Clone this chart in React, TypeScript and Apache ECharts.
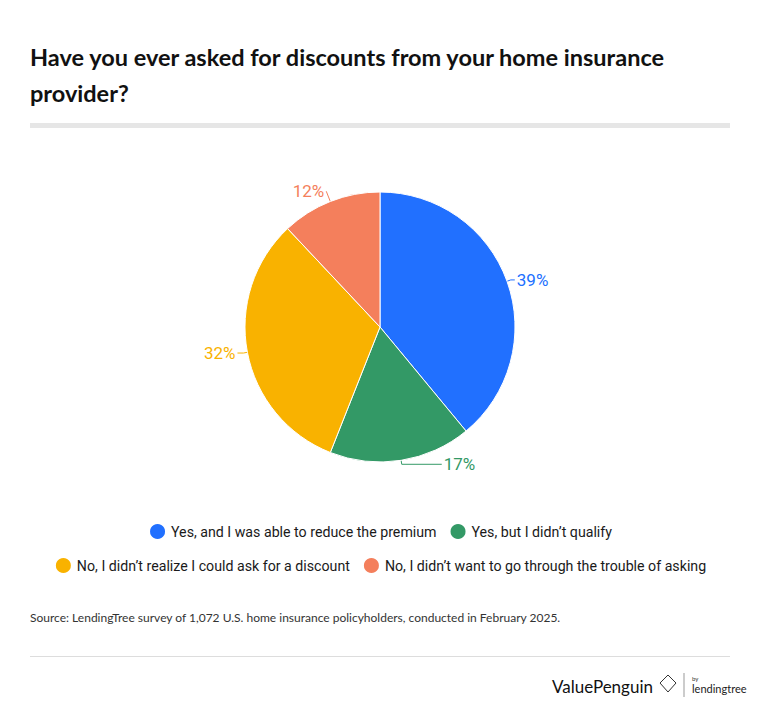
import React, { useEffect, useRef } from "react";
import * as echarts from "echarts";

const categories = [
  "Yes, and I was able to reduce the premium",
  "Yes, but I didn’t qualify",
  "No, I didn’t realize I could ask for a discount",
  "No, I didn’t want to go through the trouble of asking",
];
const values = [39, 17, 32, 12];
const colors = ["#2170FF", "#339966", "#F9B200", "#F47F5C"];
const lineLengths = [
  [4, 4],
  [4, 40],
  [4, 6],
  [11, 0],
];

export default function App() {
  const ref = useRef<HTMLDivElement>(null);
  useEffect(() => {
    document.body.style.margin = "0";
    const chart = echarts.init(ref.current!, undefined, { renderer: "svg" });
    const data = categories.map((name, i) => ({
      name,
      value: values[i],
      itemStyle: { color: colors[i] },
      label: { color: colors[i] },
      labelLine: {
        length: lineLengths[i][0],
        length2: lineLengths[i][1],
        lineStyle: { color: colors[i] },
      },
    }));
    const legendBase = {
      icon: "circle",
      itemWidth: 17,
      itemHeight: 17,
      itemGap: 12,
      selectedMode: false,
      textStyle: { fontFamily: "Roboto", fontSize: 14.2, color: "#1a1a1a" },
      left: "center",
    };
    chart.setOption({
      animation: false,
      backgroundColor: "#fff",
      title: {
        text: "Have you ever asked for discounts from your home insurance\nprovider?",
        left: 30,
        top: 39,
        padding: 0,
        textStyle: {
          fontFamily: "Lato",
          fontWeight: "bold",
          fontSize: 23.5,
          lineHeight: 36,
          color: "#111",
        },
      },
      legend: [
        { ...legendBase, data: categories.slice(0, 2), top: 517 },
        { ...legendBase, data: categories.slice(2, 4), top: 551 },
      ],
      series: [
        {
          type: "pie",
          center: [380, 327],
          radius: 135,
          startAngle: 90,
          clockwise: true,
          data,
          itemStyle: { borderColor: "#fff", borderWidth: 1 },
          label: {
            formatter: "{c}%",
            fontFamily: "Roboto",
            fontSize: 17,
            distanceToLabelLine: 2,
          },
        },
      ],
      graphic: [
        { type: "rect", shape: { x: 30, y: 123, width: 700, height: 5 }, style: { fill: "#e6e6e6" } },
        {
          type: "text",
          x: 30,
          y: 617,
          style: {
            text: "Source: LendingTree survey of 1,072 U.S. home insurance policyholders, conducted in February 2025.",
            font: "12px Lato",
            fill: "#333",
            verticalAlign: "middle",
          },
        },
        { type: "rect", shape: { x: 30, y: 656, width: 700, height: 1 }, style: { fill: "#ddd" } },
        {
          type: "text",
          x: 653,
          y: 686,
          style: { text: "ValuePenguin", font: "17px Lato", fill: "#111", align: "right", verticalAlign: "middle" },
        },
        {
          type: "polygon",
          shape: { points: [[668, 675], [676, 683], [668, 692], [660, 683]] },
          style: { fill: "none", stroke: "#333", lineWidth: 1 },
        },
        { type: "line", shape: { x1: 684, y1: 673, x2: 684, y2: 697 }, style: { stroke: "#999", lineWidth: 1 } },
        { type: "text", x: 692, y: 678, style: { text: "by", font: "6px Lato", fill: "#333", verticalAlign: "middle" } },
        {
          type: "text",
          x: 692,
          y: 688,
          style: { text: "lendingtree", font: "11px Lato", fill: "#222", verticalAlign: "middle" },
        },
      ],
    });
    return () => chart.dispose();
  }, []);
  return <div ref={ref} style={{ width: 760, height: 711 }} />;
}
